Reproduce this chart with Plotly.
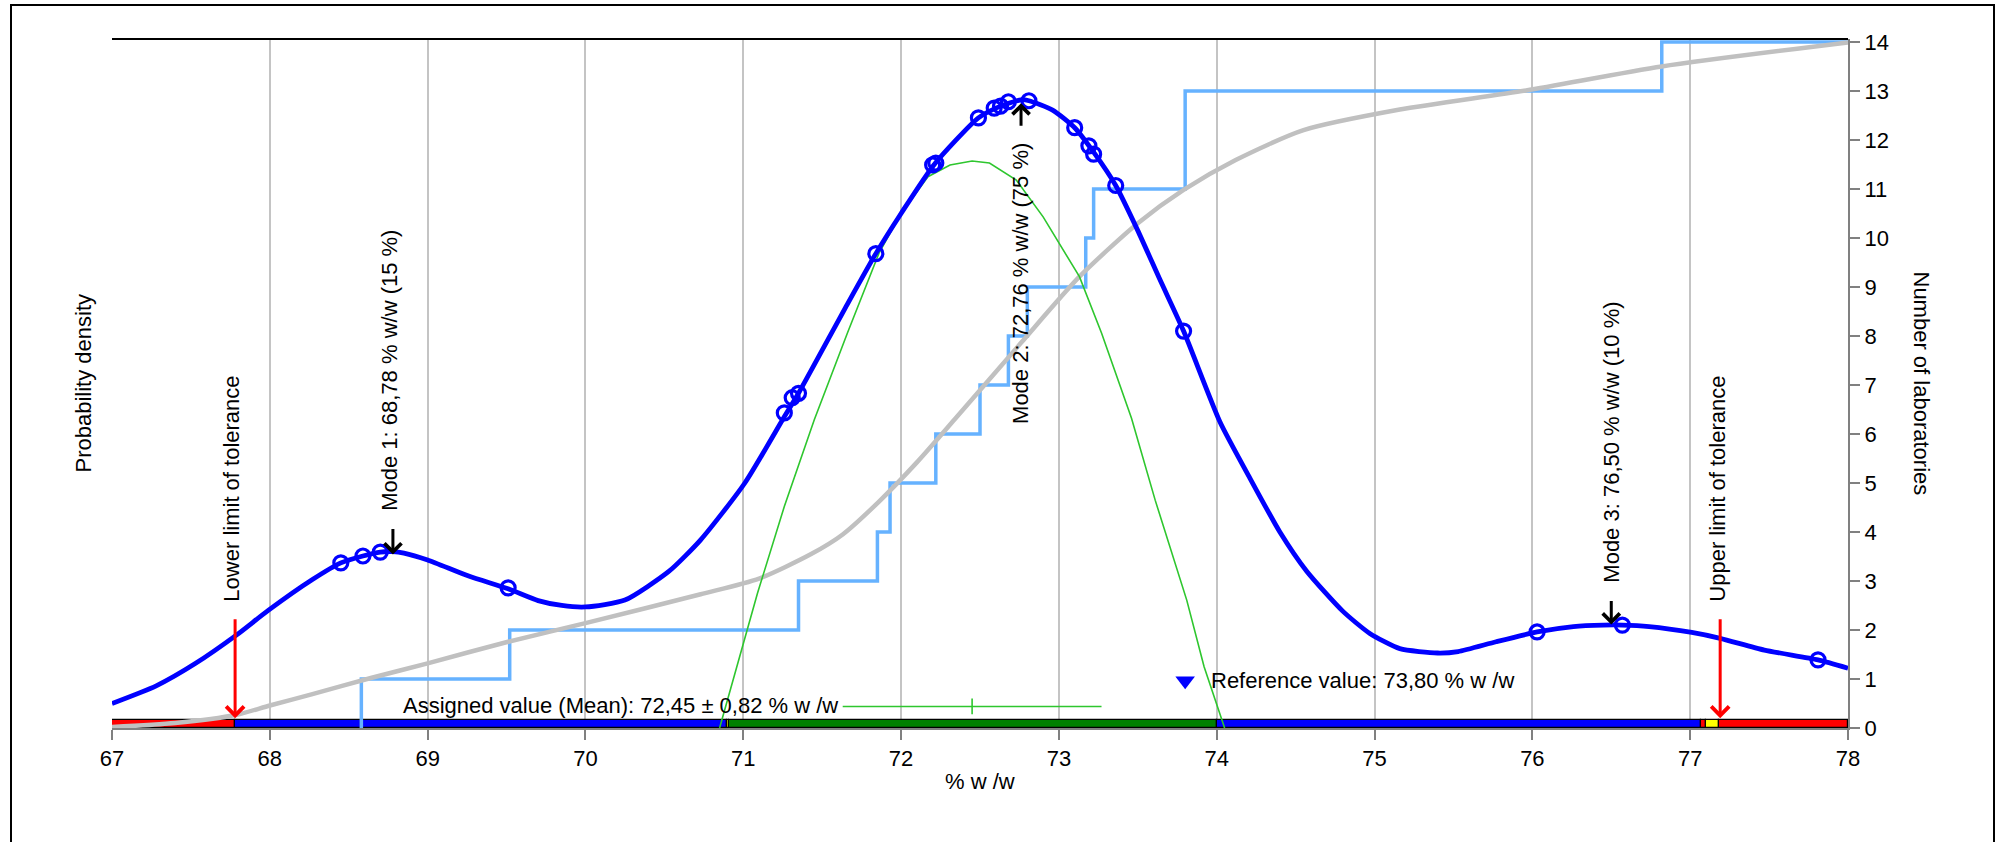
import plotly.graph_objects as go

# ---------------- data ----------------
kde_x = [67.0, 67.28, 67.53, 67.79, 67.99, 68.27, 68.45, 68.59, 68.70, 68.78, 68.85, 69.0,
         69.26, 69.51, 69.70, 69.85, 70.0, 70.25, 70.53, 70.73, 71.01, 71.26, 71.35, 71.66, 71.84,
         72.0, 72.21, 72.49, 72.63, 72.76, 72.81, 72.96, 73.10, 73.22, 73.36, 73.50, 73.64,
         73.79, 74.02, 74.21, 74.40, 74.57, 74.80, 74.97, 75.16, 75.40, 75.53, 75.77, 76.03,
         76.26, 76.45, 76.57, 76.74, 77.01, 77.19, 77.47, 77.81, 78.0]
kde_y = [0.50, 0.86, 1.32, 1.90, 2.40, 3.03, 3.37, 3.51, 3.59, 3.60, 3.57, 3.43,
         3.10, 2.84, 2.60, 2.50, 2.47, 2.61, 3.20, 3.84, 5.00, 6.35, 6.83, 8.65, 9.68,
         10.50, 11.50, 12.45, 12.69, 12.82, 12.80, 12.61, 12.25, 11.75, 11.07, 10.15, 9.15,
         8.10, 6.25, 5.10, 4.00, 3.20, 2.38, 1.93, 1.62, 1.53, 1.56, 1.76, 1.96,
         2.07, 2.10, 2.10, 2.07, 1.95, 1.83, 1.59, 1.39, 1.22]

circle_x = [68.45, 68.59, 68.70, 69.51, 71.26, 71.31, 71.35, 71.84, 72.20, 72.22, 72.49, 72.59,
            72.63, 72.68, 72.81, 73.10, 73.19, 73.22, 73.36, 73.79, 76.03, 76.57, 77.81]
circle_y = [3.37, 3.51, 3.59, 2.86, 6.43, 6.74, 6.83, 9.68, 11.49, 11.53, 12.45, 12.65,
            12.69, 12.78, 12.80, 12.25, 11.88, 11.71, 11.07, 8.10, 1.96, 2.10, 1.39]

lab_values = [68.58, 69.52, 71.35, 71.85, 71.93, 72.22, 72.50, 72.68, 72.80, 73.17, 73.22,
              73.80, 73.80, 76.82]
lab_counts = [1, 2, 3, 4, 5, 6, 7, 8, 9, 10, 11, 12, 13, 14]

cdf_x = [67.0, 67.4, 67.79, 68.0, 68.27, 68.64, 69.0, 69.51, 70.0, 70.73, 71.10, 71.43, 71.63,
         71.86, 72.10, 72.34, 72.76, 73.13, 73.50, 73.79, 74.12, 74.55, 75.16, 75.96, 76.82, 78.0]
cdf_y = [0.02, 0.10, 0.27, 0.46, 0.69, 1.02, 1.32, 1.76, 2.14, 2.73, 3.05, 3.55, 3.95,
         4.62, 5.42, 6.30, 7.86, 9.21, 10.30, 10.98, 11.59, 12.20, 12.62, 13.01, 13.50, 13.99]

normal_x = [70.85, 71.09, 71.26, 71.45, 71.66, 71.86, 72.0, 72.17, 72.31, 72.45, 72.56,
            72.73, 72.90, 73.13, 73.27, 73.46, 73.61, 73.81, 73.92, 74.05]
normal_y = [0.0, 2.75, 4.52, 6.29, 8.06, 9.69, 10.50, 11.25, 11.49, 11.57, 11.53,
            11.18, 10.43, 9.21, 8.06, 6.32, 4.65, 2.61, 1.25, 0.0]

bar_start = [67.00, 67.78, 70.90, 70.91, 74.00, 77.07, 77.10, 77.18]
bar_end = [67.78, 70.90, 70.91, 74.00, 77.07, 77.10, 77.18, 78.00]
bar_color = ["#ff0000", "#0000ff", "#ffff00", "#008000", "#0000ff", "#ff0000", "#ffff00", "#ff0000"]

x_ticks = list(range(67, 79))
y_ticks = list(range(0, 15))

assigned_mean = 72.45
assigned_unc = 0.82
reference_value = 73.80
lower_tol = 67.78
upper_tol = 77.19
mode_values = [68.78, 72.76, 76.50]
mode_shares = [15, 75, 10]

FONT = "Liberation Sans, Arial, sans-serif"
FS = 22

# ---------------- figure ----------------
fig = go.Figure()

# tolerance / classification bar at the bottom
fig.add_trace(go.Bar(
    x=[e - s for s, e in zip(bar_start, bar_end)], base=bar_start,
    y=[0.078] * len(bar_start), width=0.155, orientation="h",
    marker=dict(color=bar_color, line=dict(color="black", width=1.2)),
    yaxis="y2", showlegend=False, hoverinfo="skip"))

# cumulative number of laboratories (step)
fig.add_trace(go.Scatter(
    x=[lab_values[0]] + lab_values + [78.0], y=[0] + lab_counts + [lab_counts[-1]],
    mode="lines", line=dict(color="#66b2ff", width=3.5, shape="hv"),
    yaxis="y2", showlegend=False))

# smooth cumulative curve
fig.add_trace(go.Scatter(
    x=cdf_x, y=cdf_y, mode="lines",
    line=dict(color="#c0c0c0", width=4.5, shape="spline", smoothing=0.7),
    yaxis="y2", showlegend=False))

# normal density around assigned value
fig.add_trace(go.Scatter(
    x=normal_x, y=normal_y, mode="lines",
    line=dict(color="#2ec62e", width=1.6),
    yaxis="y2", showlegend=False))

# kernel density
fig.add_trace(go.Scatter(
    x=kde_x, y=kde_y, mode="lines",
    line=dict(color="#0000ff", width=4.8, shape="spline", smoothing=0.6),
    yaxis="y2", showlegend=False))

# lab points on density
fig.add_trace(go.Scatter(
    x=circle_x, y=circle_y, mode="markers",
    marker=dict(symbol="circle-open", size=14, color="#0000ff", line=dict(width=3.2, color="#0000ff")),
    yaxis="y2", showlegend=False))

# assigned value with uncertainty
fig.add_trace(go.Scatter(
    x=[assigned_mean], y=[0.44], mode="markers",
    marker=dict(size=1, color="#2ec62e"),
    error_x=dict(type="constant", value=assigned_unc, color="#2ec62e", thickness=1.6, width=0),
    error_y=dict(type="constant", value=0.16, color="#2ec62e", thickness=1.6, width=0),
    yaxis="y2", showlegend=False))

# reference value marker
fig.add_trace(go.Scatter(
    x=[reference_value], y=[0.965], mode="markers",
    marker=dict(symbol="triangle-down", size=17, color="#0000ff"),
    yaxis="y2", showlegend=False))

ann = []
# tolerance arrows and labels
for xv, lab, xs in [(lower_tol, "Lower limit of tolerance", -4), (upper_tol, "Upper limit of tolerance", -3)]:
    ann.append(dict(x=xv, y=0.2, ax=xv, ay=2.25, xref="x", yref="y2", axref="x", ayref="y2",
                    text="", showarrow=True, arrowhead=4, arrowwidth=3, arrowsize=1.15,
                    arrowcolor="#ff0000"))
    ann.append(dict(x=xv, y=2.54, xref="x", yref="y2", text=lab, showarrow=False,
                    textangle=-90, xanchor="center", yanchor="bottom", xshift=xs,
                    font=dict(family=FONT, size=FS, color="black")))

# mode arrows and labels
mode_texts = ["Mode %d: %s %% w/w (%d %%)" % (i + 1, ("%.2f" % v).replace(".", ","), s)
              for i, (v, s) in enumerate(zip(mode_values, mode_shares))]
# mode 1
ann.append(dict(x=mode_values[0], y=3.54, ax=mode_values[0], ay=4.09, xref="x", yref="y2",
                axref="x", ayref="y2", text="", showarrow=True, arrowhead=4, arrowwidth=3,
                arrowsize=1.1, arrowcolor="black"))
ann.append(dict(x=mode_values[0], y=4.40, xref="x", yref="y2", text=mode_texts[0], showarrow=False,
                textangle=-90, xanchor="center", yanchor="bottom", xshift=-3,
                font=dict(family=FONT, size=FS, color="black")))
# mode 2 (arrow points up, text below)
ann.append(dict(x=mode_values[1], y=12.75, ax=mode_values[1], ay=12.26, xref="x", yref="y2",
                axref="x", ayref="y2", text="", showarrow=True, arrowhead=4, arrowwidth=3,
                arrowsize=1.1, arrowcolor="black"))
ann.append(dict(x=mode_values[1], y=11.97, xref="x", yref="y2", text=mode_texts[1], showarrow=False,
                textangle=-90, xanchor="center", yanchor="top",
                font=dict(family=FONT, size=FS, color="black")))
# mode 3
ann.append(dict(x=mode_values[2], y=2.11, ax=mode_values[2], ay=2.62, xref="x", yref="y2",
                axref="x", ayref="y2", text="", showarrow=True, arrowhead=4, arrowwidth=3,
                arrowsize=1.1, arrowcolor="black"))
ann.append(dict(x=mode_values[2], y=2.92, xref="x", yref="y2", text=mode_texts[2], showarrow=False,
                textangle=-90, xanchor="center", yanchor="bottom",
                font=dict(family=FONT, size=FS, color="black")))

# assigned / reference texts
ann.append(dict(x=68.83, y=0.455, xref="x", yref="y2", showarrow=False, xanchor="left", yanchor="middle",
                text="Assigned value (Mean): %s \u00b1 %s %% w /w" % (("%.2f" % assigned_mean).replace(".", ","),
                                                                ("%.2f" % assigned_unc).replace(".", ",")),
                font=dict(family=FONT, size=FS, color="black")))
ann.append(dict(x=73.95, y=0.965, xref="x", yref="y2", showarrow=False, xanchor="left", yanchor="middle",
                text="Reference value: %s %% w /w" % ("%.2f" % reference_value).replace(".", ","),
                font=dict(family=FONT, size=FS, color="black")))

# axis titles
ann.append(dict(x=0, y=0.5, xref="paper", yref="paper", xshift=-29, text="Probability density",
                showarrow=False, textangle=-90, xanchor="center", yanchor="middle",
                font=dict(family=FONT, size=FS, color="black")))
ann.append(dict(x=1, y=0.5, xref="paper", yref="paper", xshift=73, text="Number of laboratories",
                showarrow=False, textangle=90, xanchor="center", yanchor="middle",
                font=dict(family=FONT, size=FS, color="black")))
ann.append(dict(x=0.5, y=0, xref="paper", yref="paper", yshift=-53, text="% w /w",
                showarrow=False, xanchor="center", yanchor="middle",
                font=dict(family=FONT, size=FS, color="black")))

W, H = 2002, 842
L, R, T, B = 112, 154, 39, 114
pw, ph = W - L - R, H - T - B

shapes = [
    # top border of plot
    dict(type="line", xref="paper", yref="paper", x0=0, x1=1, y0=1, y1=1,
         line=dict(color="black", width=2)),
    # outer frame
    dict(type="rect", xref="paper", yref="paper",
         x0=(11 - L) / pw, x1=(1994 - L) / pw, y0=-0.3, y1=(H - B - 5) / ph,
         line=dict(color="black", width=2)),
]

yr = [0, 14.06]
fig.update_layout(
    width=W, height=H, autosize=False,
    margin=dict(l=L, r=R, t=T, b=B, pad=0),
    paper_bgcolor="white", plot_bgcolor="white",
    font=dict(family=FONT, size=FS, color="black"),
    barmode="overlay", bargap=0,
    xaxis=dict(range=[67, 78], tickvals=x_ticks, ticktext=[str(v) for v in x_ticks],
               showgrid=True, gridcolor="#c4c4c4", gridwidth=1.5, zeroline=False,
               showline=True, linecolor="#808080", linewidth=2,
               ticks="outside", ticklen=10, tickwidth=2, tickcolor="#808080",
               tickfont=dict(family=FONT, size=FS, color="black")),
    yaxis=dict(range=yr, showticklabels=False, showgrid=False, zeroline=False,
               showline=True, linecolor="#808080", linewidth=2, ticks=""),
    yaxis2=dict(range=yr, overlaying="y", side="right", anchor="x", tickvals=y_ticks,
                showgrid=False, zeroline=False, showline=True, linecolor="#808080", linewidth=2,
                ticks="outside", ticklen=10, tickwidth=2, tickcolor="#808080",
                tickfont=dict(family=FONT, size=FS, color="black")),
    annotations=ann,
    shapes=shapes,
    showlegend=False,
)

fig.write_html("out.html", config={"displayModeBar": False},
               post_script="document.body.style.margin='0px';document.body.style.overflow='hidden';")
